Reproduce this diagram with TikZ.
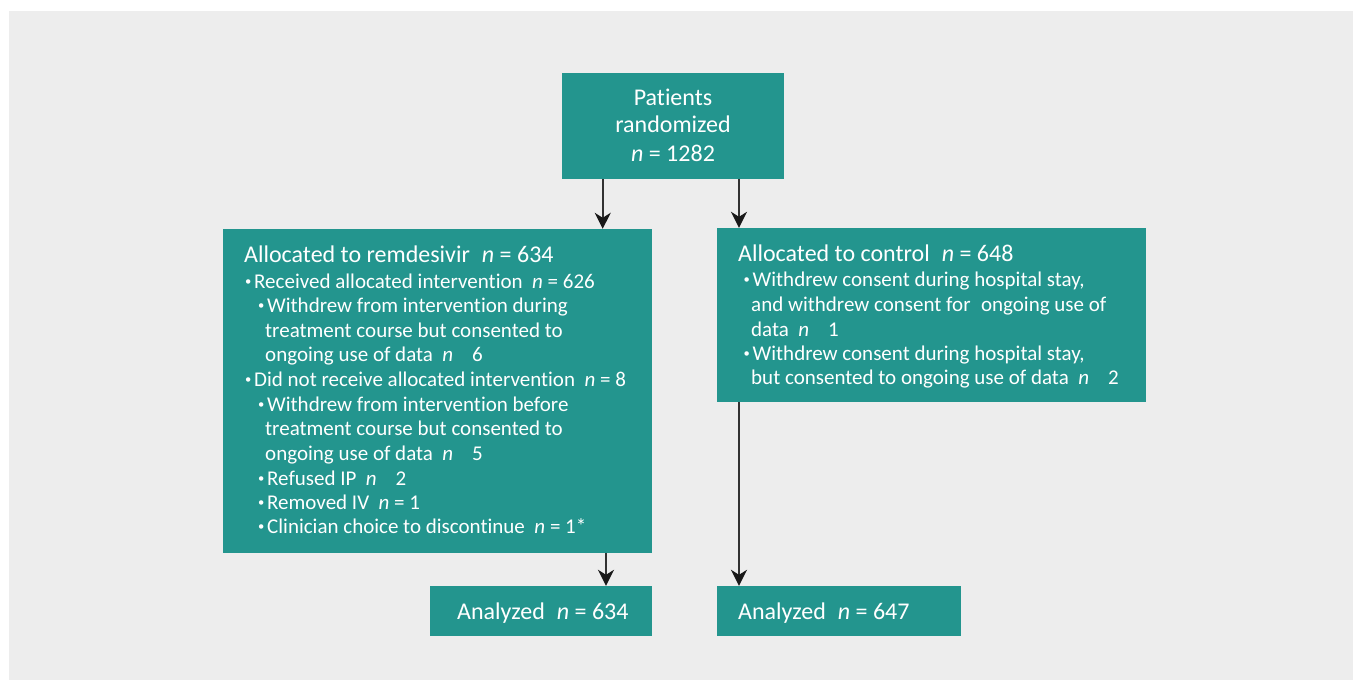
\documentclass[tikz,border=0pt]{standalone}
\usepackage{fontspec}
\usepackage{graphicx}
\setmainfont{Carlito}[Ligatures={NoCommon}]
\usetikzlibrary{arrows.meta}
\definecolor{teal1}{RGB}{35,149,142}
\definecolor{bg}{RGB}{237,237,237}
\definecolor{shaft}{RGB}{50,50,50}
\definecolor{tipc}{RGB}{25,25,25}
\newcommand{\nn}{\textit{n}}
\newcommand{\bul}{\makebox[9pt][l]{\raisebox{0.13em}{\scalebox{0.6}{\textbullet}}}}
\begin{document}
\begin{tikzpicture}[x=1pt,y=-1pt,
  box/.style={fill=teal1,draw=none,inner sep=0pt,rectangle},
  bt/.style={text=white,anchor=base west,inner sep=0pt,font=\fontsize{21}{24}\selectfont},
  hd/.style={text=white,anchor=base west,inner sep=0pt,font=\fontsize{24}{28}\selectfont},
  ct/.style={text=white,anchor=base,inner sep=0pt,font=\fontsize{24}{28}\selectfont},
  arr/.style={draw=shaft,line width=1.8pt,-{Stealth[length=16pt,width=16pt,inset=5pt,color=tipc,fill=tipc]}}]
\useasboundingbox (0,0) rectangle (1355,680);
\fill[white] (0,0) rectangle (1355,680);
\fill[bg] (9,11) rectangle (1353,680);
% boxes
\node[box,minimum width=222pt,minimum height=106pt] (top) at (673,126) {};
\node[box,minimum width=429pt,minimum height=323.7pt] (L) at (437.5,390.85) {};
\node[box,minimum width=428.7pt,minimum height=174pt] (R) at (931.35,315) {};
\node[box,minimum width=222pt,minimum height=50pt] (AL) at (541,611) {};
\node[box,minimum width=244pt,minimum height=50pt] (AR) at (839,611) {};
% arrow x positions
\coordinate (x1) at (602.7,0);
\coordinate (x2) at (739,0);
\coordinate (x3) at (606,0);
\draw[arr] (x1 |- top.south) -- (x1 |- L.north);
\draw[arr] (x2 |- top.south) -- (x2 |- R.north);
\draw[arr] (x3 |- L.south) -- (x3 |- AL.north);
\draw[arr] (x2 |- R.south) -- (x2 |- AR.north);
% top text
\node[ct] (t0) at (673,105.7) {Patients};
\node[ct] (t1) at (673,132.7) {randomized};
\node[ct] (t2) at (673,161.7) {\nn\ = 1282};
% left text
\node[hd] (l0) at (244,262) {Allocated to remdesivir\hspace{0.5em}\nn\ = 634};
\node[bt] (l1) at (245,288) {\bul Received allocated intervention\hspace{0.45em}\nn\ = 626};
\node[bt] (l2) at (258,312) {\bul Withdrew from intervention during};
\node[bt] (l3) at (265,337) {treatment course but consented to};
\node[bt] (l4) at (265,361) {ongoing use of data\hspace{0.45em}\nn\hspace{0.9em}6};
\node[bt] (l5) at (245,386) {\bul Did not receive allocated intervention\hspace{0.45em}\nn\ = 8};
\node[bt] (l6) at (258,411) {\bul Withdrew from intervention before};
\node[bt] (l7) at (265,435.5) {treatment course but consented to};
\node[bt] (l8) at (265,460) {ongoing use of data\hspace{0.45em}\nn\hspace{0.9em}5};
\node[bt] (l9) at (258,485) {\bul Refused IP\hspace{0.45em}\nn\hspace{0.9em}2};
\node[bt] (l10) at (258,509) {\bul Removed IV\hspace{0.45em}\nn\ = 1};
\node[bt] (l11) at (258,533.5) {\bul Clinician choice to discontinue\hspace{0.45em}\nn\ = 1*};
% right text
\node[hd] (r0) at (738,261) {Allocated to control\hspace{0.5em}\nn\ = 648};
\node[bt] (r1) at (743.5,286) {\bul Withdrew consent during hospital stay,};
\node[bt] (r2) at (751,311) {and withdrew consent for\hspace{0.5em}ongoing use of};
\node[bt] (r3) at (751,336) {data\hspace{0.45em}\nn\hspace{0.9em}1};
\node[bt] (r4) at (743.5,360) {\bul Withdrew consent during hospital stay,};
\node[bt] (r5) at (751,384) {but consented to ongoing use of data\hspace{0.45em}\nn\hspace{0.9em}2};
% analyzed
\node[hd] (a0) at (457,619.3) {Analyzed\hspace{0.5em}\nn\ = 634};
\node[hd] (a1) at (738,619.3) {Analyzed\hspace{0.5em}\nn\ = 647};
\end{tikzpicture}
\end{document}
